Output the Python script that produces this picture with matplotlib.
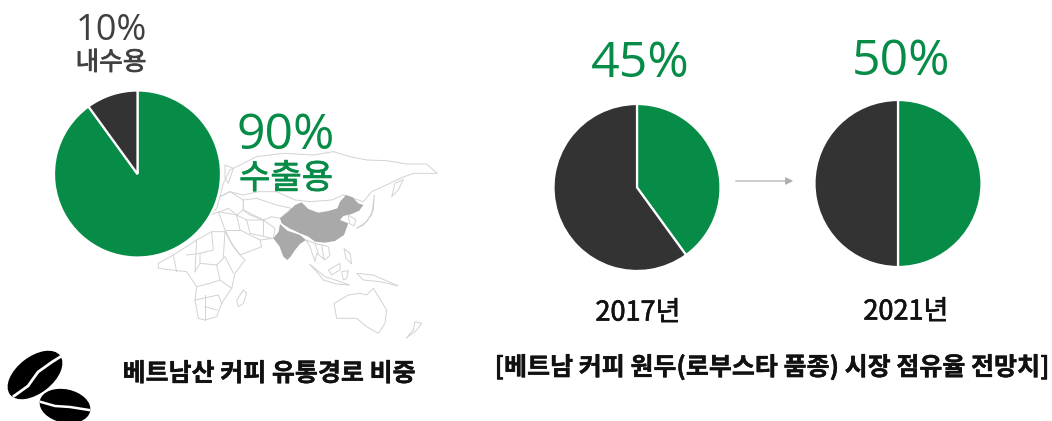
import matplotlib
matplotlib.use('Agg')
import matplotlib.pyplot as plt
import matplotlib.patheffects as pe
from matplotlib.patches import Ellipse, Polygon

W, H = 1052, 421
GREEN = '#078c48'
DARK = '#333333'
MAP_LINE = '#d2d2d2'
MAP_FILL = '#a9a9a9'

# значения секторов (зелёный, тёмный) - как нарисовано на картинке
export_share = [90, 10]
share_2017 = [40, 60]
share_2021 = [50, 50]

labels_pct = ['10%', '90%', '45%', '50%']
labels_use = ['내수용', '수출용']
labels_year = ['2017년', '2021년']
title_left = '베트남산 커피 유통경로 비중'
title_right = '[베트남 커피 원두(로부스타 품종) 시장 점유율 전망치]'

# контуры карты, координаты в кропе 3x от точки (200, 140)
china = [(240, 235), (262, 218), (285, 195), (305, 187), (325, 207), (355, 218), (385, 213), (412, 205), (420, 185),
         (438, 165), (458, 172), (475, 190), (490, 195), (478, 212), (455, 222), (430, 228), (420, 240), (445, 250),
         (432, 285), (405, 303), (375, 308), (345, 305), (325, 290), (300, 280), (268, 265), (245, 250)]
india = [(240, 252), (262, 272), (300, 285), (318, 300), (300, 312), (285, 330), (272, 350), (262, 360), (250, 350),
         (238, 318), (220, 295), (236, 275)]
russia = [(60, 170), (90, 155), (130, 165), (175, 155), (230, 155), (285, 180), (330, 185), (395, 180), (430, 165),
          (490, 185), (515, 155), (570, 130), (600, 115), (640, 100), (712, 100), (680, 72), (620, 72), (560, 62),
          (500, 60), (450, 50), (400, 35), (340, 45), (250, 40), (170, 50), (130, 70), (90, 90), (70, 130)]
europe = [(60, 170), (50, 205), (30, 225), (60, 215), (85, 205), (110, 225), (130, 210), (130, 180), (90, 155)]
scandinavia = [(75, 75), (100, 85), (85, 130), (75, 115)]
central = [(130, 180), (170, 175), (230, 195), (275, 205), (240, 235), (215, 230), (190, 240), (150, 225), (130, 210)]
mideast = [(55, 215), (110, 225), (140, 240), (190, 240), (225, 265), (220, 295), (180, 300), (185, 320), (120, 345),
           (95, 310), (75, 270)]
mideast_inner = [[(110, 225), (120, 270), (180, 300)], [(75, 270), (120, 270)], [(140, 240), (150, 280), (215, 295)],
                 [(190, 240), (190, 285)], [(130, 210), (190, 240)]]
africa = [(-125, 370), (-80, 345), (-10, 300), (35, 275), (75, 275), (100, 320), (120, 345), (135, 360), (105, 400),
          (95, 445), (65, 490), (50, 530), (15, 540), (-5, 535), (-15, 480), (-10, 440), (-40, 395), (-125, 385)]
africa_inner = [[(-80, 345), (-70, 395)], [(-10, 300), (-15, 395)], [(35, 275), (40, 330), (0, 340), (-40, 345)],
                [(0, 370), (50, 375), (75, 350), (100, 400)], [(-15, 395), (0, 370), (0, 340)],
                [(50, 375), (60, 420), (95, 445)], [(-10, 440), (30, 430), (60, 420)],
                [(-15, 480), (55, 465), (65, 490)], [(15, 500), (50, 510)], [(15, 465), (15, 540)], [(75, 275), (70, 350)]]
madagascar = [(130, 450), (140, 460), (130, 490), (115, 500), (110, 480)]
se_asia = [(318, 300), (345, 310), (385, 320), (390, 345), (375, 360), (350, 340), (345, 365), (330, 320)]
se_asia_inner = [[(345, 310), (355, 340)], [(365, 315), (372, 358)]]
sumatra = [(328, 372), (350, 395), (370, 420), (410, 432), (450, 435), (420, 425), (375, 410)]
borneo = [(385, 390), (420, 370), (420, 390), (395, 405)]
sulawesi = [(425, 395), (445, 392), (440, 415), (430, 420)]
philippines = [(432, 325), (450, 340), (455, 372), (438, 355)]
new_guinea = [(470, 400), (520, 405), (595, 438), (540, 425), (490, 420)]
korea = [(445, 225), (468, 240), (462, 258), (448, 250)]
japan = [(470, 265), (500, 245), (520, 210), (523, 165), (515, 225), (490, 255)]
sakhalin = [(575, 170), (585, 130), (610, 118), (595, 150)]
australia = [(402, 490), (445, 465), (480, 460), (500, 465), (520, 445), (560, 510), (555, 550), (535, 580),
             (500, 560), (470, 535), (410, 535)]
new_zealand = [(618, 595), (650, 570), (665, 550), (645, 545), (640, 570)]
map_outlines = [russia, europe, scandinavia, central, mideast, africa, madagascar, se_asia, sumatra, borneo, sulawesi,
                philippines, new_guinea, korea, japan, sakhalin, australia, new_zealand]
map_borders = africa_inner + mideast_inner + se_asia_inner


def to_px(points):
    # кроп 3x -> пиксели (y вверх)
    return [(200 + x / 3, H - (140 + y / 3)) for x, y in points]


def draw_pie(ax, values, cx, cy, r):
    ax.pie(values, colors=[GREEN, DARK], startangle=90, counterclock=False, center=(cx, H - cy), radius=r,
           frame=True, wedgeprops={'edgecolor': 'white', 'linewidth': 1.6, 'zorder': 3})


def label(ax, x, y, s, size, color, stroke=0, **kw):
    t = ax.text(x, H - y, s, fontsize=size, color=color, ha='center', va='center', zorder=5, **kw)
    if stroke:
        t.set_path_effects([pe.withStroke(linewidth=stroke, foreground=color)])


fig = plt.figure(figsize=(W / 100, H / 100), dpi=100)
ax = fig.add_axes([0, 0, 1, 1])

# карта
for shape in map_outlines:
    ax.add_patch(Polygon(to_px(shape), closed=True, fill=False, edgecolor=MAP_LINE, linewidth=0.7, zorder=1))
for seg in map_borders:
    xs, ys = zip(*to_px(seg))
    ax.plot(xs, ys, color=MAP_LINE, linewidth=0.7, zorder=1)
ax.add_patch(Polygon(to_px(china), closed=True, color=MAP_FILL, linewidth=0, zorder=2))
ax.add_patch(Polygon(to_px(india), closed=True, color=MAP_FILL, linewidth=0, zorder=2))

# круговые диаграммы
draw_pie(ax, export_share, 137.5, 174, 83.5)
draw_pie(ax, share_2017, 637, 187.5, 83.5)
draw_pie(ax, share_2021, 898, 183.5, 83.5)

ax.set_xlim(0, W)
ax.set_ylim(0, H)
ax.set_aspect('auto')
ax.axis('off')

# подписи
KR = 'Noto Sans CJK KR'
label(ax, 111, 31, labels_pct[0], 26, '#404040', family='Open Sans')
label(ax, 111, 63, labels_use[0], 18.5, '#404040', stroke=0.6, family=KR)
label(ax, 286, 136, labels_pct[1], 36, GREEN, family='Open Sans')
label(ax, 286, 179, labels_use[1], 24.5, GREEN, stroke=0.6, family=KR)
label(ax, 640, 64, labels_pct[2], 36, GREEN, family='Open Sans')
label(ax, 901, 62, labels_pct[3], 36, GREEN, family='Open Sans')
label(ax, 638, 313, labels_year[0], 19.5, '#111111', stroke=0.5, family=KR)
label(ax, 906, 312, labels_year[1], 19.5, '#111111', stroke=0.5, family=KR)
label(ax, 269, 374, title_left, 18, '#111111', stroke=0.3, family=KR, weight='bold')
label(ax, 772, 367, title_right, 18, '#111111', stroke=0.3, family=KR, weight='bold')

# стрелка
ax.annotate('', xy=(796, H - 181), xytext=(733, H - 181),
            arrowprops=dict(arrowstyle='-|>', color='#b0b0b0', lw=0.9, mutation_scale=11), zorder=3)

# зёрна кофе
ax.add_patch(Ellipse((35, H - 375), 62, 35, angle=38, color='black', zorder=3))
ax.plot([14, 28, 38, 52, 60], [H - 396, H - 386, H - 372, H - 362, H - 357], color='white', lw=2, zorder=4)
ax.add_patch(Ellipse((65, H - 406), 50, 32, angle=-12, color='black', zorder=3))
ax.plot([41, 55, 70, 89], [H - 402, H - 406, H - 407, H - 410], color='white', lw=1.8, zorder=4)

fig.savefig('out.png', dpi=100, facecolor='white')
